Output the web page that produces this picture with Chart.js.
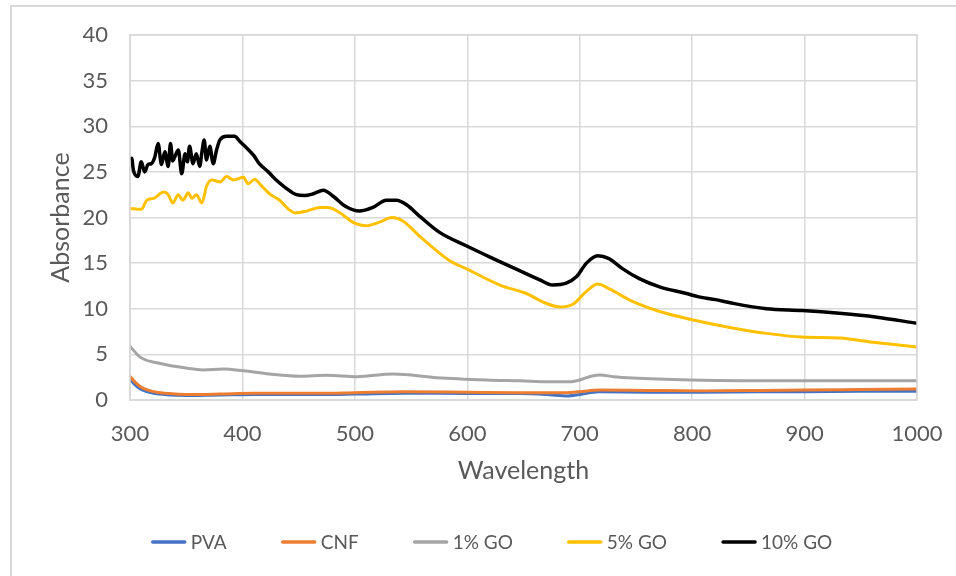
<!DOCTYPE html>
<html>
<head>
<meta charset="utf-8">
<script src="https://cdn.jsdelivr.net/npm/chart.js@4/dist/chart.umd.min.js"></script>
<style>
html,body{margin:0;padding:0;background:#fff;}
#wrap{position:relative;width:956px;height:576px;}
canvas{display:block;}
</style>
</head>
<body>
<div id="wrap"><canvas id="c" width="956" height="576"></canvas></div>
<script>
const seriesNames = ["PVA", "CNF", "1% GO", "5% GO", "10% GO"];
const xTicks = [300, 400, 500, 600, 700, 800, 900, 1000];
const yTicks = [0, 5, 10, 15, 20, 25, 30, 35, 40];

const pvaWl  = [300,305,310,320,335,350,380,410,470,500,543,600,646,670,690,700,717,760,808,860,900,950,1000];
const pvaAbs = [2.3,1.6,1.15,0.75,0.55,0.5,0.55,0.6,0.6,0.65,0.75,0.72,0.7,0.6,0.45,0.6,0.9,0.85,0.85,0.9,0.9,0.95,0.95];

const cnfWl  = [300,305,310,320,335,350,380,410,470,500,543,600,646,688,700,717,760,808,860,900,950,1000];
const cnfAbs = [2.6,1.9,1.4,0.95,0.7,0.6,0.65,0.73,0.73,0.8,0.9,0.85,0.8,0.8,0.9,1.1,1.05,1.0,1.05,1.1,1.15,1.2];

const go1Wl  = [300,309,327,350,365,383,401,424,451,475,502,534,573,617,647,673,691,700,710,718,730,747,799,895,1000];
const go1Abs = [5.9,4.7,4.0,3.5,3.3,3.4,3.2,2.85,2.6,2.7,2.55,2.85,2.45,2.2,2.1,2.0,2.0,2.2,2.6,2.75,2.55,2.4,2.2,2.1,2.1];

const go5Wl  = [300,310,315,321,330,334,338,343,347,352,355,359,364,368,373,380,386,392,401,405,411,416,424,433,441,447,457,469,476,487,498,510,522,533,543,558,584,599,629,652,670,682,694,706,716,726,747,771,800,836,866,898,931,963,1000];
const go5Abs = [21.0,20.9,21.9,22.1,22.8,22.5,21.6,22.5,21.9,22.7,22.1,22.5,21.6,23.4,24.1,23.9,24.5,24.1,24.4,23.7,24.2,23.6,22.6,21.9,20.9,20.5,20.7,21.1,21.1,20.5,19.5,19.1,19.5,20.0,19.6,17.9,15.3,14.4,12.6,11.7,10.6,10.2,10.5,11.9,12.7,12.2,10.8,9.7,8.8,7.9,7.3,6.9,6.8,6.3,5.8];

const go10Wl  = [300,301.5,303,307,310,313,316,319,322,325,328,331,334,336,338,340,343,346,349,351,353,356,359,362,364,366,368,371,374,377,380,386,393,398,404,410,415,423,430,439,448,455,463,472,481,492,504,516,528,537,546,558,575,599,623,646,664,676,688,697,706,716,726,738,753,771,794,806,821,836,866,898,931,963,1000];
const go10Abs = [26.3,26.5,25.2,24.5,26.1,25.0,25.8,25.9,26.6,28.1,25.8,27.2,25.6,28.1,26.2,26.7,27.4,24.8,27.0,26.1,27.8,25.9,27.0,25.6,27.2,28.5,26.3,27.8,25.9,27.4,28.5,28.9,28.9,28.3,27.6,26.8,25.9,25.0,24.1,23.2,22.5,22.4,22.6,23.0,22.3,21.2,20.7,21.1,21.9,21.9,21.4,20.1,18.4,16.9,15.5,14.2,13.2,12.6,12.8,13.5,15.0,15.8,15.5,14.4,13.3,12.4,11.7,11.3,11.0,10.6,10.0,9.8,9.5,9.1,8.4];

const colors = ["#4472C4", "#ED7D31", "#A5A5A5", "#FFC000", "#000000"];
const wls = [pvaWl, cnfWl, go1Wl, go5Wl, go10Wl];
const abss = [pvaAbs, cnfAbs, go1Abs, go5Abs, go10Abs];

const FONT = "Lato, 'Open Sans', sans-serif";
const GRID = "#d9d9d9";
const TXT = "#595959";

const datasets = seriesNames.map((n, i) => ({
  label: n,
  data: wls[i].map((x, j) => ({x: x, y: abss[i][j]})),
  borderColor: colors[i],
  backgroundColor: colors[i],
  borderWidth: i === 4 ? 3.5 : 3,
  pointRadius: 0,
  cubicInterpolationMode: 'monotone',
  order: 5 - i
}));

const frame = {
  id: 'frame',
  beforeDraw(chart) {
    const ctx = chart.ctx;
    ctx.save();
    ctx.strokeStyle = GRID;
    ctx.lineWidth = 2;
    ctx.beginPath();
    ctx.moveTo(11, 576);
    ctx.lineTo(11, 6);
    ctx.lineTo(956, 6);
    ctx.stroke();
    ctx.restore();
  },
  afterDatasetsDraw(chart) {
    const a = chart.chartArea;
    const ctx = chart.ctx;
    ctx.save();
    ctx.strokeStyle = GRID;
    ctx.lineWidth = 1.5;
    ctx.strokeRect(a.left, a.top, a.right - a.left, a.bottom - a.top);
    ctx.restore();
  },
  afterDraw(chart) {
    const ctx = chart.ctx;
    ctx.save();
    ctx.font = "19px " + FONT;
    ctx.textBaseline = 'middle';
    const lineW = 34, gap = 5, itemGap = 55, cy = 542;
    const ds = chart.data.datasets;
    let total = 0;
    ds.forEach((d, i) => { total += lineW + gap + ctx.measureText(d.label).width + (i < ds.length - 1 ? itemGap : 0); });
    let x = 492 - total / 2;
    ds.forEach(d => {
      ctx.strokeStyle = d.borderColor;
      ctx.lineWidth = 3.5;
      ctx.lineCap = 'round';
      ctx.beginPath();
      ctx.moveTo(x + 1, cy);
      ctx.lineTo(x + lineW - 1, cy);
      ctx.stroke();
      ctx.fillStyle = TXT;
      ctx.fillText(d.label, x + lineW + gap, cy + 1);
      x += lineW + gap + ctx.measureText(d.label).width + itemGap;
    });
    ctx.restore();
  }
};

new Chart(document.getElementById('c'), {
  type: 'line',
  data: { datasets },
  plugins: [frame],
  options: {
    responsive: false,
    animation: false,
    layout: { padding: { top: 35, right: 39, left: 46, bottom: 56 } },
    plugins: {
      legend: { display: false },
      tooltip: { enabled: false }
    },
    scales: {
      x: {
        type: 'linear',
        min: 300, max: 1000,
        afterBuildTicks: s => { s.ticks = xTicks.map(v => ({value: v})); },
        afterFit: s => { s.height = 120; s.paddingRight = 0; s.paddingLeft = 0; },
        grid: { color: GRID, lineWidth: 1.5, drawTicks: false },
        border: { color: GRID, width: 1.5 },
        ticks: { font: { family: FONT, size: 22 }, color: TXT, padding: 21, maxRotation: 0, callback: v => String(v) },
        title: { display: true, text: 'Wavelength', font: { family: FONT, size: 25 }, color: TXT, padding: { top: 6, bottom: 34 } }
      },
      y: {
        min: 0, max: 40,
        afterBuildTicks: s => { s.ticks = yTicks.map(v => ({value: v})); },
        afterFit: s => { s.width = 84; s.paddingTop = 0; s.paddingBottom = 0; },
        grid: { color: GRID, lineWidth: 1.5, drawTicks: false },
        border: { color: GRID, width: 1.5 },
        ticks: { font: { family: FONT, size: 22 }, color: TXT, padding: 22, callback: v => String(v) },
        title: { display: true, text: 'Absorbance', font: { family: FONT, size: 25 }, color: TXT, padding: { top: 0, bottom: 4 } }
      }
    }
  }
});
</script>
</body>
</html>
